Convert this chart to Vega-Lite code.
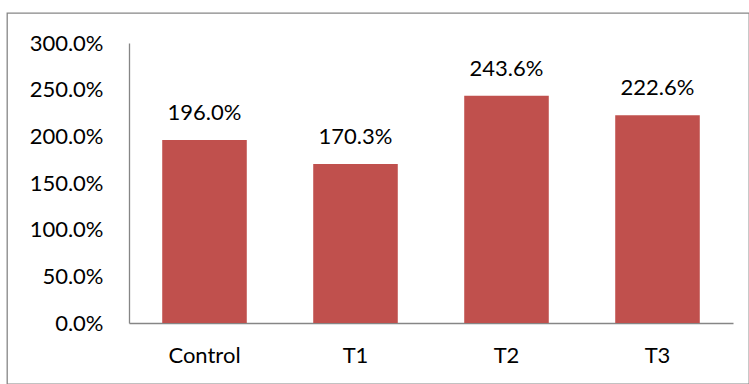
{
  "$schema": "https://vega.github.io/schema/vega-lite/v6.json",
  "width": 742,
  "height": 371,
  "autosize": "none",
  "padding": {"left": 7, "top": 13, "right": 0, "bottom": 0},
  "background": "#ffffff",
  "config": {
    "view": {"stroke": "#868686", "strokeWidth": 1.3},
    "font": "Lato",
    "axis": {
      "labelFont": "Lato",
      "labelFontSize": 22,
      "labelColor": "#000000",
      "domainColor": "#868686",
      "domainWidth": 1.3,
      "ticks": false,
      "grid": false,
      "title": null
    }
  },
  "data": {
    "values": [
      {"group": "Control", "ratio": 1.960},
      {"group": "T1", "ratio": 1.703},
      {"group": "T2", "ratio": 2.436},
      {"group": "T3", "ratio": 2.226}
    ]
  },
  "encoding": {
    "x": {
      "field": "group",
      "type": "nominal",
      "sort": null,
      "scale": {"range": [122, 726], "paddingInner": 0.44, "paddingOuter": 0.22},
      "axis": {"orient": "bottom", "offset": -61, "labelAngle": 0, "labelPadding": 22, "labelBaseline": "top"}
    },
    "y": {
      "field": "ratio",
      "type": "quantitative",
      "scale": {"domain": [0, 3], "range": [310, 30], "nice": false, "zero": true},
      "axis": {"orient": "left", "offset": -122, "values": [0, 0.5, 1, 1.5, 2, 2.5, 3], "format": ".1%", "labelPadding": 26, "labelBaseline": "middle"}
    }
  },
  "layer": [
    {"mark": {"type": "bar", "color": "#C0504D"}},
    {
      "mark": {"type": "text", "font": "Lato", "fontSize": 22, "color": "#000000", "baseline": "alphabetic", "dy": -20},
      "encoding": {"text": {"field": "ratio", "type": "quantitative", "format": ".1%"}}
    }
  ]
}
